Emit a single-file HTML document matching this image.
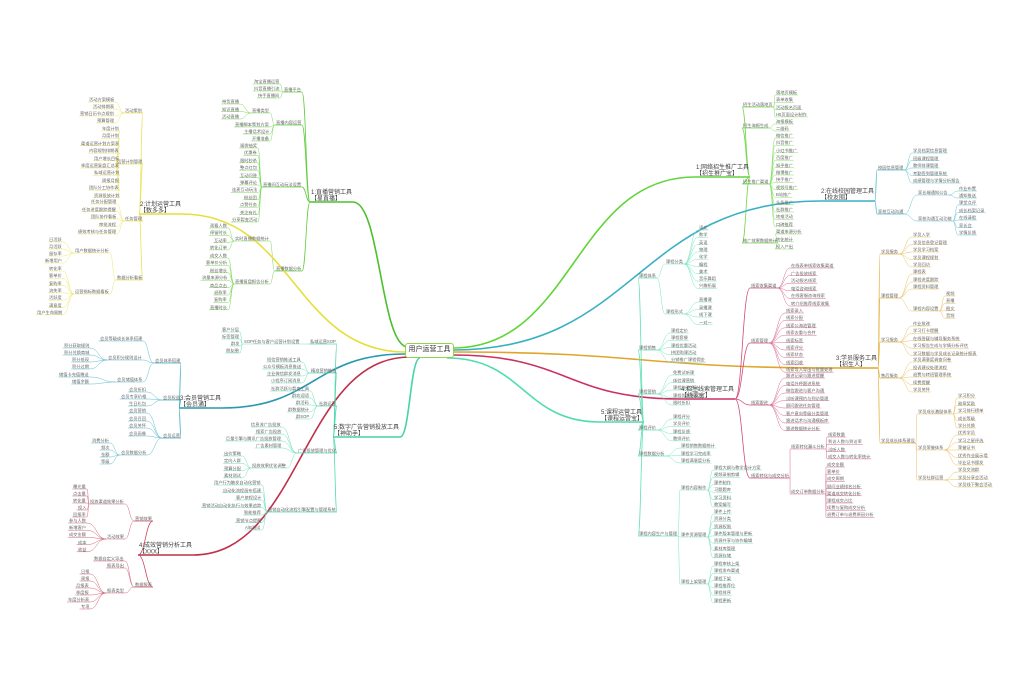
<!DOCTYPE html>
<html><head><meta charset="utf-8">
<style>
html,body{margin:0;padding:0;background:#fff;}
#w{position:relative;width:1024px;height:692px;overflow:hidden;background:#fff;font-family:"Liberation Sans","Noto Sans CJK SC",sans-serif;}
svg{position:absolute;left:0;top:0;}
.g{position:absolute;left:0;top:0;}
.g span{position:absolute;white-space:nowrap;font-size:9px;line-height:10px;color:#666;transform-origin:0 0;}
.g.m span{font-size:12px;line-height:13px;color:#444;}
#c{position:absolute;left:405px;top:343px;width:49px;height:15px;border:1.5px solid #8fd34f;border-radius:3px;font-size:7px;line-height:12px;text-align:center;color:#333;background:#fff;box-sizing:border-box;z-index:3;}
</style></head><body>
<div id="w">
<svg id="s" width="1024" height="692"></svg>

<!-- LEFT GREEN -->
<div class="g m" data-c="#4cc02c" data-p="408,347" data-a="353,202,0,L" data-sw="1.6"><span id="m1">1:直播营销工具<br>【星直播】</span></div>
<div class="g" data-c="#5fcc3c" data-p="#m1" data-a="302,0,0,L" data-sw="0.8"><span id="s1" data-y="92">直播平台</span><span id="s2" data-y="125">直播内容运营</span><span id="s3" data-y="187">直播间互动玩法设置</span><span id="s4" data-y="271">直播数据分析</span></div>
<div class="g" data-c="#7ad95a" data-p="#s1" data-a="280,84,7,L"><span>淘宝直播运营</span><span>抖音直播引流</span><span>快手直播间</span></div>
<div class="g" data-c="#7ad95a" data-p="#s2" data-a="270,0,0,L"><span id="s2a" data-y="113">直播类型</span><span data-y="127">直播脚本策划方案</span><span data-y="134">主播话术设计</span><span data-y="141">开播准备</span></div>
<div class="g" data-c="#7ad95a" data-p="#s2a" data-a="240,104,7.5,L"><span>带货直播</span><span>知识直播</span><span>活动直播</span></div>
<div class="g" data-c="#7ad95a" data-p="#s3" data-a="258,148,7.4,L"><span>福袋抽奖</span><span>优惠券</span><span>限时秒杀</span><span>整点红包</span><span>互动问答</span><span>弹幕评论</span><span>连麦互动玩法</span><span>粉丝团</span><span>点赞任务</span><span>关注有礼</span><span>分享裂变活动</span></div>
<div class="g" data-c="#7ad95a" data-p="#s4" data-a="270,0,0,L"><span id="s4a" data-y="241">实时直播数据统计</span><span id="s4b" data-y="284">直播复盘报告分析</span></div>
<div class="g" data-c="#7ad95a" data-p="#s4a" data-a="228,228,7.3,L"><span>观看人数</span><span>停留时长</span><span>互动率</span><span>转化订单</span></div>
<div class="g" data-c="#7ad95a" data-p="#s4b" data-a="228,258,7.4,L"><span>成交人数</span><span>客单价分析</span><span>粉丝增长</span><span>流量来源分析</span><span>商品点击</span><span>退款率</span><span>复购率</span><span>直播时长</span></div>

<!-- LEFT YELLOW -->
<div class="g m" data-c="#e6df3a" data-p="406,352" data-a="182,214,0,L" data-sw="1.6"><span id="m2">2:计划运营工具<br>【数多多】</span></div>
<div class="g" data-c="#ebe35a" data-p="#m2" data-a="143,0,0,L" data-sw="0.8"><span id="y1" data-y="113">活动策划</span><span id="y2" data-y="164">运营计划管理</span><span id="y3" data-y="221">任务管理</span><span id="y4" data-y="280">数据分析看板</span></div>
<div class="g" data-c="#efe870" data-p="#y1" data-a="115,102,7,L"><span>活动方案模板</span><span>活动排期表</span><span>营销日历节点规划</span><span>预算管理</span></div>
<div class="g" data-c="#efe870" data-p="#y2" data-a="120,131,7.4,L"><span>年度计划</span><span>月度计划</span><span>渠道运营计划方案表</span><span>内容规划排期表</span><span>用户增长目标</span><span>季度运营复盘汇总表</span><span>私域运营计划</span><span>周报月报</span><span>团队分工协作表</span><span>资源投放计划</span></div>
<div class="g" data-c="#efe870" data-p="#y3" data-a="117,204,7.5,L"><span>任务分配管理</span><span>任务进度跟踪提醒</span><span>团队协作看板</span><span>审批流程</span><span>绩效考核与任务管理</span></div>
<div class="g" data-c="#efe870" data-p="#y4" data-a="110,0,0,L"><span id="y4a" data-y="253">用户数据统计分析</span><span id="y4b" data-y="294">运营指标数据看板</span></div>
<div class="g" data-c="#efe870" data-p="#y4a" data-a="63,242,7,L"><span>日活跃</span><span>月活跃</span><span>留存率</span><span>新增用户</span></div>
<div class="g" data-c="#efe870" data-p="#y4b" data-a="63,271,7.3,L"><span>转化率</span><span>客单价</span><span>复购率</span><span>流失率</span><span>活跃度</span><span>满意度</span><span>用户生命周期</span></div>

<!-- LEFT BLUE -->
<div class="g m" data-c="#2a98b0" data-p="405,354" data-a="222,408,0,L" data-sw="1.6"><span id="m3">3:会员营销工具<br>【会员通】</span></div>
<div class="g" data-c="#3aa8bf" data-p="#m3" data-a="181,0,0,L" data-sw="0.8"><span id="b1" data-y="363">会员体系搭建</span><span id="b2" data-y="400">会员权益</span><span id="b3" data-y="438">会员运营</span></div>
<div class="g" data-c="#5cbccf" data-p="#b1" data-a="143,0,0,L"><span data-y="341">会员等级成长体系搭建</span><span id="b1b" data-y="360">会员积分规则设计</span><span id="b1c" data-y="382">会员储值体系</span></div>
<div class="g" data-c="#5cbccf" data-p="#b1b" data-a="90,348,7,L"><span>积分获取规则</span><span>积分兑换商城</span><span>积分抵现</span><span>积分过期</span></div>
<div class="g" data-c="#5cbccf" data-p="#b1c" data-a="90,377,7,L"><span>储值卡充值赠送</span><span>储值余额</span></div>
<div class="g" data-c="#5cbccf" data-p="#b2" data-a="147,392,7,L"><span>会员折扣</span><span>会员专享价格</span><span>生日礼包</span></div>
<div class="g" data-c="#5cbccf" data-p="#b3" data-a="147,0,0,L"><span data-y="413">会员营销</span><span data-y="421">会员召回</span><span data-y="428">会员关怀</span><span data-y="436">会员画像</span><span id="b4" data-y="455">会员数据分析</span></div>
<div class="g" data-c="#5cbccf" data-p="#b4" data-a="110,443,7,L"><span>消费分析</span><span>频次</span><span>金额</span><span>等级</span></div>

<!-- LEFT RED -->
<div class="g m" data-c="#c0304a" data-p="410,357" data-a="193,555,0,L" data-sw="1.6"><span id="m4">4:成效营销分析工具<br>【XXX】</span></div>
<div class="g" data-c="#c84a62" data-p="#m4" data-a="153,0,0,L" data-sw="0.8"><span id="r1" data-y="521">营销效果</span><span id="r2" data-y="587">数据报表</span></div>
<div class="g" data-c="#d0647a" data-p="#r1" data-a="125,0,0,L"><span id="r1a" data-y="504">投放渠道效果分析</span><span id="r1b" data-y="539">活动效果</span></div>
<div class="g" data-c="#d0647a" data-p="#r1a" data-a="87,489,7,L"><span>曝光量</span><span>点击量</span><span>转化量</span><span>投入</span><span>回报率</span></div>
<div class="g" data-c="#d0647a" data-p="#r1b" data-a="87,523,7.2,L"><span>参与人数</span><span>新增客户</span><span>成交金额</span><span>成本</span><span>收益</span></div>
<div class="g" data-c="#d0647a" data-p="#r2" data-a="125,0,0,L"><span data-y="561">数据自定义导出</span><span data-y="568">报表导出</span><span id="r2c" data-y="593">报表类型</span></div>
<div class="g" data-c="#d0647a" data-p="#r2c" data-a="90,574,7,L"><span>日报</span><span>周报</span><span>月报表</span><span>季度报</span><span>年度分析表</span><span>专项</span></div>

<!-- LEFT TEAL -->
<div class="g m" data-c="#45d4a8" data-p="420,358" data-a="400,437,0,L" data-sw="1.6"><span id="m5">5:数字广告营销投放工具<br>【神助手】</span></div>
<div class="g" data-c="#55d8b0" data-p="#m5" data-a="337,0,0,L" data-sw="0.8"><span id="t1" data-y="344">私域运营SOP</span><span id="t2" data-y="373">精准营销推送</span><span id="t3" data-y="406">社群运营</span><span id="t4" data-y="453">广告投放管理与优化</span><span id="t5" data-y="512">营销自动化流程引擎配置与管理系统</span></div>
<div class="g" data-c="#70dfbe" data-p="#t1" data-a="300,0,0,L"><span id="t1a" data-y="344">SOP任务与客户运营计划设置</span></div>
<div class="g" data-c="#70dfbe" data-p="#t1a" data-a="240,332,7,L"><span>客户分层</span><span>标签管理</span><span>群发</span><span>朋友圈</span></div>
<div class="g" data-c="#70dfbe" data-p="#t2" data-a="302,362,7,L"><span>短信营销推送工具</span><span>公众号模板消息推送</span><span>企业微信群发消息</span><span>小程序订阅消息</span></div>
<div class="g" data-c="#70dfbe" data-p="#t3" data-a="310,391,7,L"><span>社群活跃与裂变工具</span><span>群欢迎语</span><span>群活码</span><span>群数据统计</span><span>群SOP</span></div>
<div class="g" data-c="#70dfbe" data-p="#t4" data-a="282,0,0,L"><span data-y="427">信息流广告投放</span><span data-y="434">搜索广告投放</span><span data-y="441">巨量引擎与腾讯广告投放管理</span><span data-y="448">广告素材管理</span><span id="t4b" data-y="468" data-x="287">投放效果优化调整</span></div>
<div class="g" data-c="#70dfbe" data-p="#t4b" data-a="242,456,7.3,L"><span>出价策略</span><span>定向人群</span><span>预算分配</span><span>素材测试</span></div>
<div class="g" data-c="#70dfbe" data-p="#t5" data-a="262,485,7.5,L"><span>用户行为触发自动化营销</span><span>自动化流程画布搭建</span><span>客户旅程设计</span><span>营销活动自动化执行与效果追踪</span><span>智能推荐</span><span>营销节点提醒</span><span>A/B测试</span></div>

<!-- RIGHT GREEN -->
<div class="g m" data-c="#62d43a" data-p="453,348" data-a="695,177,0,R" data-sw="1.6"><span id="m6">1:网络招生推广工具<br>【招生推广宝】</span></div>
<div class="g" data-c="#6fd84a" data-p="#m6" data-a="742,0,0,R" data-sw="0.8"><span id="g1" data-y="107">招生活动落地页</span><span id="g2" data-y="128">招生海报生成</span><span id="g3" data-y="184">招生推广渠道</span><span id="g4" data-y="243">推广效果数据统计</span></div>
<div class="g" data-c="#86e06a" data-p="#g1" data-a="775,95,7.3,R"><span>落地页模板</span><span>表单收集</span><span>活动报名页面</span><span>H5页面设计制作</span></div>
<div class="g" data-c="#86e06a" data-p="#g2" data-a="775,124,7,R"><span>海报模板</span><span>二维码</span></div>
<div class="g" data-c="#86e06a" data-p="#g3" data-a="775,138,7.4,R"><span>微信推广</span><span>抖音推广</span><span>小红书推广</span><span>百度推广</span><span>知乎推广</span><span>微博推广</span><span>快手推广</span><span>视频号推广</span><span>B站推广</span><span>头条推广</span><span>社群推广</span><span>地推活动</span><span>口碑推荐</span></div>
<div class="g" data-c="#86e06a" data-p="#g4" data-a="775,234,7.5,R"><span>渠道来源分析</span><span>转化统计</span><span>投入产出</span></div>

<!-- RIGHT BLUE -->
<div class="g m" data-c="#3ab0c4" data-p="453,350" data-a="820,201,0,R" data-sw="1.6"><span id="m7">2:在线校园管理工具<br>【校友圈】</span></div>
<div class="g" data-c="#4cb8cb" data-p="#m7" data-a="877,0,0,R" data-sw="0.8"><span id="c1" data-y="170">校园信息管理</span><span id="c2" data-y="214">家校互动沟通</span></div>
<div class="g" data-c="#66c6d6" data-p="#c1" data-a="912,153,7.5,R"><span>学员档案信息管理</span><span>班级课程管理</span><span>教师排课管理</span><span>考勤签到管理系统</span><span>成绩管理与学情分析报告</span></div>
<div class="g" data-c="#66c6d6" data-p="#c2" data-a="917,0,0,R"><span id="c2a" data-y="195">家长端通知公告</span><span id="c2b" data-y="221">家校沟通互动功能</span></div>
<div class="g" data-c="#66c6d6" data-p="#c2a" data-a="958,191,7,R"><span>作业布置</span><span>通知推送</span></div>
<div class="g" data-c="#66c6d6" data-p="#c2b" data-a="958,205,7.5,R"><span>课堂点评</span><span>成长档案记录</span><span>在线请假</span><span>家长会</span><span>学情反馈</span></div>

<!-- RIGHT ORANGE -->
<div class="g m" data-c="#e0a52a" data-p="453,352" data-a="835,368,0,R" data-sw="1.6"><span id="m8">3:学员服务工具<br>【招生人】</span></div>
<div class="g" data-c="#e4b040" data-p="#m8" data-a="880,0,0,R" data-sw="0.8"><span id="o1" data-y="254">学员服务</span><span id="o2" data-y="298">课程管理</span><span id="o3" data-y="342">学习服务</span><span id="o4" data-y="378">售后服务</span><span id="o5" data-y="443">学员成长体系建设</span></div>
<div class="g" data-c="#eac060" data-p="#o1" data-a="912,237,7.5,R"><span>学员入学</span><span>学员信息登记管理</span><span>学员学习档案</span><span>学员课程规划</span><span>学员回访</span></div>
<div class="g" data-c="#eac060" data-p="#o2" data-a="912,0,0,R"><span data-y="274">课程表</span><span data-y="282">课程进度跟踪</span><span data-y="289">课程资料管理</span><span id="o2a" data-y="311">课程内容设置</span></div>
<div class="g" data-c="#eac060" data-p="#o2a" data-a="945,296,7.4,R"><span>视频</span><span>直播</span><span>图文</span><span>音频</span></div>
<div class="g" data-c="#eac060" data-p="#o3" data-a="912,326,7.4,R"><span>作业批改</span><span>学习打卡提醒</span><span>在线答疑与辅导服务系统</span><span>学习报告生成与学情分析评估</span><span>学习数据与学员成长记录统计报表</span></div>
<div class="g" data-c="#eac060" data-p="#o4" data-a="912,362,7.5,R"><span>学员满意度调查问卷</span><span>投诉建议处理流程</span><span>退费与转班管理系统</span><span>续费提醒</span><span>学员关怀</span></div>
<div class="g" data-c="#eac060" data-p="#o5" data-a="917,0,0,R"><span id="o5a" data-y="414">学员成长激励体系</span><span id="o5b" data-y="450">学员荣誉体系</span><span id="o5c" data-y="480">学员社群运营</span></div>
<div class="g" data-c="#eac060" data-p="#o5a" data-a="957,398,7.5,R"><span>学习积分</span><span>勋章奖励</span><span>学习排行榜单</span><span>成长等级</span><span>学分兑换</span></div>
<div class="g" data-c="#eac060" data-p="#o5b" data-a="957,435,7.5,R"><span>优秀学员</span><span>学习之星评选</span><span>荣誉证书</span><span>优秀作业展示墙</span><span>毕业证书颁发</span></div>
<div class="g" data-c="#eac060" data-p="#o5c" data-a="957,472,7.5,R"><span>学员交流群</span><span>学员分享会活动</span><span>学员线下聚会活动</span></div>

<!-- RIGHT RED -->
<div class="g m" data-c="#cc3060" data-p="453,355" data-a="680,399,0,R" data-sw="1.6"><span id="m9">4:招生线索管理工具<br>【线索宝】</span></div>
<div class="g" data-c="#d24a74" data-p="#m9" data-a="750,0,0,R" data-sw="0.8"><span id="e1" data-y="288">线索收集渠道</span><span id="e2" data-y="343">线索管理</span><span id="e3" data-y="405">线索跟进</span><span id="e4" data-y="478">线索转化与成交分析</span></div>
<div class="g" data-c="#da6a8c" data-p="#e1" data-a="790,268,7.6,R"><span>在线表单线索收集渠道</span><span>广告投放线索</span><span>活动报名线索</span><span>电话咨询线索</span><span>在线客服咨询线索</span><span>转介绍推荐线索收集</span></div>
<div class="g" data-c="#da6a8c" data-p="#e2" data-a="785,313,7.4,R"><span>线索录入</span><span>线索分配</span><span>线索公海池管理</span><span>线索去重与合并</span><span>线索标签</span><span>线索评分</span><span>线索状态</span><span>线索回收</span><span>线索导入导出与批量处理</span></div>
<div class="g" data-c="#da6a8c" data-p="#e3" data-a="785,378,7.5,R"><span>跟进记录与跟进提醒</span><span>电话外呼跟进系统</span><span>微信跟进与客户沟通</span><span>试听课预约与到访管理</span><span>顾问跟进任务管理</span><span>客户意向等级分类管理</span><span>跟进话术与沟通模板库</span><span>跟进数据统计分析</span></div>
<div class="g" data-c="#da6a8c" data-p="#e4" data-a="790,0,0,R"><span id="e4a" data-y="449">线索转化漏斗分析</span><span id="e4b" data-y="494">成交订单数据分析</span></div>
<div class="g" data-c="#da6a8c" data-p="#e4a" data-a="827,437,7.3,R"><span>线索数量</span><span>到访人数与到访率</span><span>试听人数</span><span>成交人数与转化率统计</span></div>
<div class="g" data-c="#da6a8c" data-p="#e4b" data-a="826,467,7.2,R"><span>成交金额</span><span>客单价</span><span>成交周期</span><span>顾问业绩排名分析</span><span>渠道成交转化分析</span><span>课程成交占比</span><span>续费与复购成交分析</span><span>退费订单与退费原因分析</span></div>

<!-- RIGHT TEAL -->
<div class="g m" data-c="#50dcae" data-p="447,358" data-a="600,422,0,R" data-sw="1.6"><span id="m10">5:课程运营工具<br>【课程运营宝】</span></div>
<div class="g" data-c="#60e0b6" data-p="#m10" data-a="638,0,0,R" data-sw="0.8"><span id="a1" data-y="278">课程体系</span><span id="a2" data-y="350">课程销售</span><span id="a3" data-y="394">课程营销</span><span id="a4" data-y="430">课程评价</span><span id="a5" data-y="456">课程数据分析</span><span id="a6" data-y="536">课程内容生产与管理</span></div>
<div class="g" data-c="#7ae6c4" data-p="#a1" data-a="665,0,0,R"><span id="a1a" data-y="264">课程分类</span><span id="a1b" data-y="314">课程形式</span></div>
<div class="g" data-c="#7ae6c4" data-p="#a1a" data-a="698,230,7.3,R"><span>语文</span><span>数学</span><span>英语</span><span>物理</span><span>化学</span><span>编程</span><span>美术</span><span>音乐舞蹈</span><span>兴趣拓展</span></div>
<div class="g" data-c="#7ae6c4" data-p="#a1b" data-a="698,302,7.5,R"><span>直播课</span><span>录播课</span><span>线下课</span><span>一对一</span></div>
<div class="g" data-c="#7ae6c4" data-p="#a2" data-a="670,333,7.3,R"><span>课程定价</span><span>课程套餐</span><span>课程优惠活动</span><span>拼团购课活动</span><span>分销推广课程佣金</span></div>
<div class="g" data-c="#7ae6c4" data-p="#a3" data-a="672,375,7.5,R"><span>免费试听课</span><span>体验课营销</span><span>课程秒杀活动</span><span>课程优惠券发放</span><span>限时折扣</span></div>
<div class="g" data-c="#7ae6c4" data-p="#a4" data-a="672,419,7.3,R"><span>课程评分</span><span>学员评价</span><span>课程反馈</span><span>教师评价</span></div>
<div class="g" data-c="#7ae6c4" data-p="#a5" data-a="680,448,7.5,R"><span>课程销售数据统计</span><span>课程学习完成率</span><span>课程满意度分析</span></div>
<div class="g" data-c="#7ae6c4" data-p="#a6" data-a="680,0,0,R"><span id="a6a" data-y="490">课程内容制作</span><span id="a6b" data-y="537">课件资源管理</span><span id="a6c" data-y="584">课程上架管理</span></div>
<div class="g" data-c="#7ae6c4" data-p="#a6a" data-a="713,470,7.4,R"><span>课程大纲与教学设计方案</span><span>视频录制剪辑</span><span>课件制作</span><span>习题题库</span><span>学习资料</span><span>教案编写</span></div>
<div class="g" data-c="#7ae6c4" data-p="#a6b" data-a="713,514,7.3,R"><span>课件上传</span><span>资源分类</span><span>资源权限</span><span>课件版本管理与更新</span><span>资源共享与协作编辑</span><span>素材库管理</span><span>资源存储</span></div>
<div class="g" data-c="#7ae6c4" data-p="#a6c" data-a="713,566,7.3,R"><span>课程审核上架</span><span>课程发布渠道</span><span>课程下架</span><span>课程推荐位</span><span>课程排序</span><span>课程更新</span></div>

<div id="c">用户运营工具</div>
</div>
<script>
(function(){
var svg=document.getElementById('s'),NS='http://www.w3.org/2000/svg',pts={};
function add(tag,a){var e=document.createElementNS(NS,tag);for(var k in a)e.setAttribute(k,a[k]);svg.appendChild(e);return e;}
var gs=document.querySelectorAll('.g');
for(var gi=0;gi<gs.length;gi++){
 var g=gs[gi],c=g.getAttribute('data-c'),p=g.getAttribute('data-p'),px,py;
 var isM=g.className.indexOf('m')>=0;
 var sc=isM?0.5:0.47;
 if(p.charAt(0)=='#'){var q=pts[p.slice(1)];px=q[0];py=q[1];}else{var pp=p.split(',');px=+pp[0];py=+pp[1];}
 var a=g.getAttribute('data-a').split(','),ax=+a[0],y0=+a[1],dy=+a[2],side=a[3];
 var sw=+(g.getAttribute('data-sw')||0.5);
 var sp=g.children;
 for(var i=0;i<sp.length;i++){
  var s=sp[i];
  var y=s.hasAttribute('data-y')?+s.getAttribute('data-y'):y0+i*dy;
  var x=s.hasAttribute('data-x')?+s.getAttribute('data-x'):ax;
  s.style.transform='scale('+sc+')';
  var w=s.offsetWidth*sc+2,h=s.offsetHeight*sc;
  var far=side=='R'?x+w:x-w;
  s.style.left=(Math.min(x,far)+1)+'px';
  s.style.top=(y-h-0.3)+'px';
  var mx=px+(x-px)/2;
  add('path',{d:'M'+px+','+py+' C'+mx+','+py+' '+mx+','+y+' '+x+','+y,fill:'none',stroke:c,'stroke-width':sw});
  add('line',{x1:x,y1:y,x2:far,y2:y,stroke:c,'stroke-width':sw});
  if(s.id)pts[s.id]=[far,y];
 }
}
})();
</script>
</body></html>
